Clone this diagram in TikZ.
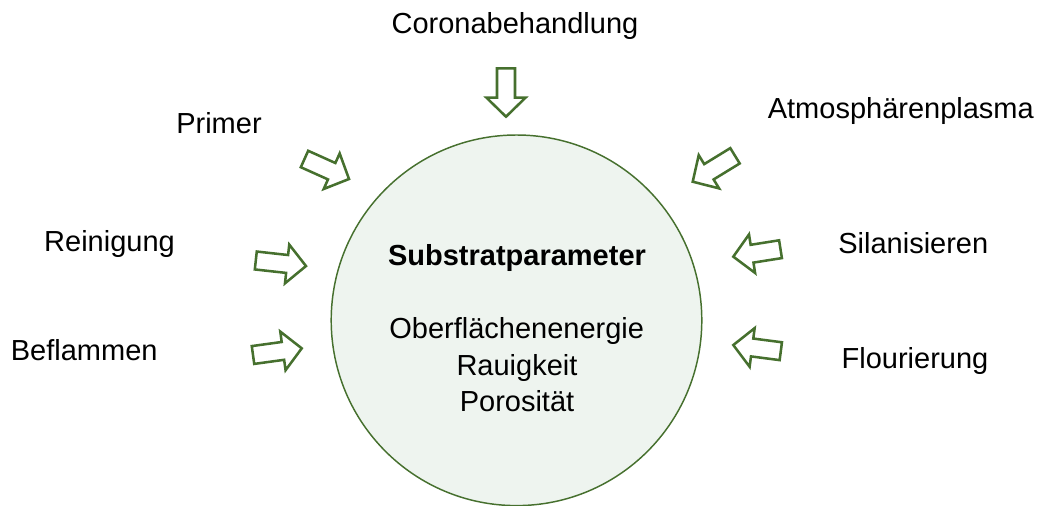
\documentclass[tikz,border=0pt]{standalone}
\usepackage{fontspec}
\setmainfont{Liberation Sans}
\definecolor{arrgreen}{HTML}{46702E}
\definecolor{circfill}{HTML}{EEF4EF}
\newcommand{\fatarrow}[4]{%
  \begin{scope}[shift={(#1,#2)},rotate=#3]
    \draw[fatarr] (0,-9) -- ({#4-19},-9) -- ({#4-19},-19.5) -- (#4,0)
      -- ({#4-19},19.5) -- ({#4-19},9) -- (0,9) -- cycle;
  \end{scope}}
\begin{document}
\begin{tikzpicture}[x=0.75pt,y=-0.75pt,
  fatarr/.style={draw=arrgreen,fill=white,line width=1.9pt,line join=miter},
  lbl/.style={anchor=base,inner sep=0pt,font=\fontsize{21.75}{26}\selectfont},
  circ/.style={circle,draw=arrgreen,fill=circfill,line width=1.1pt,minimum size=370.6*0.75pt,inner sep=0pt}]
\useasboundingbox (0,0) rectangle (1039,506);
\node[circ] (c) at (516.5,320.3) {};
\node[lbl,font=\fontsize{21.75}{26}\selectfont\bfseries] (t0) at (517,265) {Substratparameter};
\node[lbl] (t1) at (516.7,338.3) {Oberflächenenergie};
\node[lbl] (t2) at (517,375) {Rauigkeit};
\node[lbl] (t3) at (517,411.5) {Porosität};
\node[lbl] (corona) at (515,33.3) {Coronabehandlung};
\node[lbl] (primer) at (219,133.3) {Primer};
\node[lbl] (rein) at (109.5,251.7) {Reinigung};
\node[lbl] (befl) at (84.2,360) {Beflammen};
\node[lbl] (atmo) at (900.8,118.3) {Atmosphärenplasma};
\node[lbl] (sila) at (913.3,253.3) {Silanisieren};
\node[lbl] (flou) at (915,368.3) {Flourierung};
\fatarrow{506}{68.3}{-90}{48.4}
\fatarrow{304.5}{159}{-24.2}{48.8}
\fatarrow{735}{155.8}{-148.5}{49.6}
\fatarrow{780.5}{249.2}{-171}{47.8}
\fatarrow{780.8}{351.2}{172.6}{47.9}
\fatarrow{255.8}{260.5}{-6.3}{50.5}
\fatarrow{253}{355}{7.8}{49.2}
\end{tikzpicture}
\end{document}
